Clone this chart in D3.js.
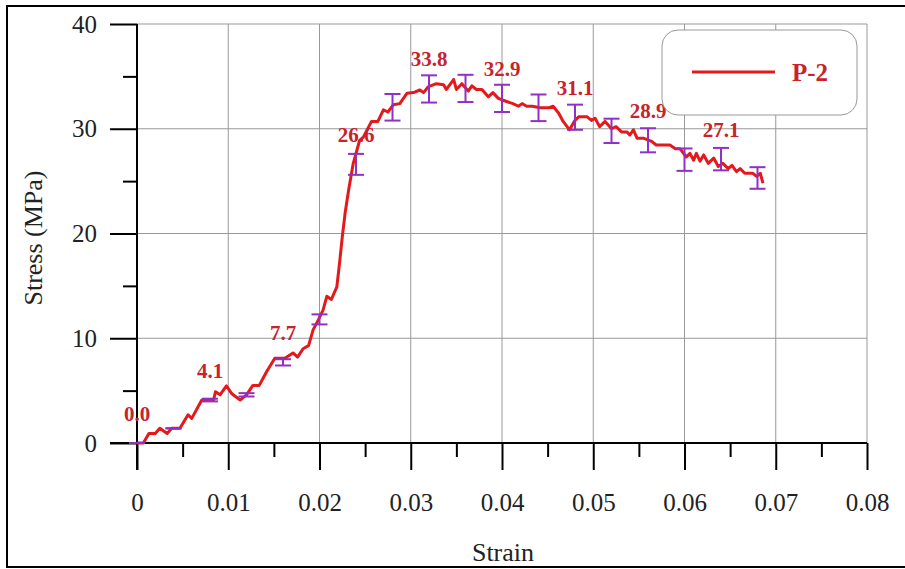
<!DOCTYPE html>
<html>
<head>
<meta charset="utf-8">
<script src="https://cdn.jsdelivr.net/npm/d3@7"></script>
<style>
  body { margin: 0; background: #fff; }
  svg { display: block; font-family: "Liberation Serif", "DejaVu Serif", serif; }
  .axis path, .axis line { stroke: #000; stroke-width: 2; }
  .axis text { font-size: 25px; fill: #222; }
</style>
</head>
<body>
<div id="chart"></div>
<script>
// stress-strain curve
var strain = [0, 0.0007, 0.0013, 0.002, 0.0025, 0.0033, 0.0038, 0.0047, 0.0056, 0.006,
  0.0071, 0.0084, 0.0086, 0.0091, 0.0098, 0.0104, 0.0113, 0.012, 0.0127, 0.0134,
  0.0142, 0.0151, 0.0162, 0.0171, 0.0176, 0.0182, 0.0188, 0.0193, 0.0199, 0.0204,
  0.0208, 0.0213, 0.0219, 0.0222, 0.0225, 0.0228, 0.0232, 0.0237, 0.0244, 0.0248,
  0.0257, 0.0264, 0.027, 0.0275, 0.0281, 0.0288, 0.0296, 0.0303, 0.031, 0.0314,
  0.0319, 0.0328, 0.0336, 0.0339, 0.0347, 0.035, 0.0356, 0.0363, 0.0367, 0.0372,
  0.0378, 0.0385, 0.039, 0.0396, 0.0405, 0.0412, 0.0418, 0.0422, 0.0427, 0.0433,
  0.0442, 0.0451, 0.0456, 0.0462, 0.0467, 0.0474, 0.048, 0.0484, 0.0493, 0.0498,
  0.0502, 0.0507, 0.0513, 0.052, 0.0525, 0.0531, 0.0537, 0.054, 0.0544, 0.0548,
  0.0555, 0.0564, 0.0569, 0.0584, 0.059, 0.0595, 0.0602, 0.0606, 0.061, 0.0613,
  0.0617, 0.0621, 0.0626, 0.0632, 0.0637, 0.0642, 0.0648, 0.0652, 0.0657, 0.0661,
  0.0666, 0.0675, 0.0679, 0.0683, 0.0686];
var stress = [0, 0, 0.9, 0.9, 1.4, 0.9, 1.4, 1.4, 2.7, 2.35,
  4.1, 4.1, 4.9, 4.6, 5.45, 4.7, 4.1, 4.6, 5.5, 5.5,
  6.8, 8.1, 8.1, 8.6, 8.2, 9.0, 9.3, 10.8, 11.8, 12.7,
  14.0, 13.7, 14.9, 17.2, 19.7, 21.9, 24.2, 26.7, 28.9, 29.2,
  30.7, 30.7, 31.8, 31.6, 32.3, 32.4, 33.4, 33.45, 33.7, 33.45,
  34.0, 34.3, 34.2, 33.75, 34.7, 33.75, 34.3, 33.6, 34.1, 33.75,
  33.75, 33.05, 33.45, 32.9, 32.6, 32.4, 32.15, 32.4, 32.15, 32.15,
  32.0, 32.0, 32.15, 31.5, 30.7, 29.9, 30.8, 31.15, 31.15, 30.8,
  31.0, 30.2, 30.7, 30.0, 30.2, 29.7, 29.7, 29.4, 29.9, 29.1,
  29.1, 28.8, 28.45, 28.45, 28.1, 28.1, 27.3, 27.65, 27.0, 27.65,
  26.9, 27.5, 26.7, 27.2, 26.4, 26.7, 26.2, 26.5, 25.9, 26.2,
  25.75, 25.75, 25.45, 25.75, 24.8];

// error bars
var barStrain = [0, 0.004, 0.008, 0.012, 0.016, 0.02, 0.024, 0.028, 0.032,
  0.036, 0.04, 0.044, 0.048, 0.052, 0.056, 0.06, 0.064, 0.068];
var barMean = [0, 1.4, 4.1, 4.6, 7.7, 11.8, 26.6, 32.05, 33.8,
  33.85, 32.9, 32.0, 31.1, 29.8, 28.9, 27.05, 27.1, 25.3];
var barErr = [0, 0, 0.13, 0.16, 0.3, 0.48, 1.0, 1.27, 1.3,
  1.3, 1.3, 1.27, 1.2, 1.16, 1.15, 1.07, 1.07, 1.03];

// value labels
var labelStrain = [0, 0.008, 0.016, 0.024, 0.032, 0.04, 0.048, 0.056, 0.064];
var labelText = ['0.0', '4.1', '7.7', '26.6', '33.8', '32.9', '31.1', '28.9', '27.1'];

var xTicks = [0, 0.01, 0.02, 0.03, 0.04, 0.05, 0.06, 0.07, 0.08];
var yTicks = [0, 10, 20, 30, 40];
var seriesName = 'P-2';

var W = 905, H = 569;
var x0 = 137, x1 = 867, y0 = 443, y1 = 24;
var fontFamily = '"Liberation Serif", "DejaVu Serif", serif';

var lineColor = '#e3191c', labelColor = '#c8232b', barColor = '#9130c4';

function translation(x, y) {
  return 'translate(' + x + ',' + y + ')';
}

var svg = d3.select('#chart').append('svg')
  .attr('width', W)
  .attr('height', H);

// outer frame (right edge falls outside the picture)
svg.append('rect')
  .attr('x', 7).attr('y', 6)
  .attr('width', 920).attr('height', 561)
  .attr('fill', 'none')
  .attr('stroke', '#000')
  .attr('stroke-width', 2);

var xScale = d3.scaleLinear().domain([0, 0.08]).range([x0, x1]);
var yScale = d3.scaleLinear().domain([0, 40]).range([y0, y1]);

// grid
svg.append('g').selectAll('line.gx')
  .data(xTicks.slice(1))
  .enter().append('line')
    .attr('x1', function(d) { return xScale(d); })
    .attr('x2', function(d) { return xScale(d); })
    .attr('y1', y0).attr('y2', y1)
    .attr('stroke', '#999').attr('stroke-width', 1);
svg.append('g').selectAll('line.gy')
  .data(yTicks.slice(1))
  .enter().append('line')
    .attr('x1', x0).attr('x2', x1)
    .attr('y1', function(d) { return yScale(d); })
    .attr('y2', function(d) { return yScale(d); })
    .attr('stroke', '#999').attr('stroke-width', 1);

// minor ticks
var xMinor = d3.range(0, 0.0801, 0.005).filter(function(d, i) { return i % 2; });
var yMinor = [5, 15, 25, 35];

svg.append('g')
  .attr('class', 'axis')
  .attr('transform', translation(0, y0))
  .call(d3.axisBottom(xScale).tickValues(xMinor).tickSize(14).tickFormat(''))
  .select('.domain').remove();
svg.append('g')
  .attr('class', 'axis')
  .attr('transform', translation(x0, 0))
  .call(d3.axisLeft(yScale).tickValues(yMinor).tickSize(14).tickFormat(''))
  .select('.domain').remove();

// major axes
var gx = svg.append('g')
  .attr('class', 'axis')
  .attr('transform', translation(0, y0))
  .call(d3.axisBottom(xScale).tickValues(xTicks).tickSize(27).tickPadding(23)
    .tickFormat(function(d) { return d === 0 ? '0' : d3.format('.2f')(d); }))
  .attr('font-family', fontFamily);
gx.select('.domain').attr('d', 'M' + (x0 - 27) + ',0H' + x1);

var gy = svg.append('g')
  .attr('class', 'axis')
  .attr('transform', translation(x0, 0))
  .call(d3.axisLeft(yScale).tickValues(yTicks).tickSize(27).tickPadding(13))
  .attr('font-family', fontFamily);
gy.select('.domain').attr('d', 'M0,' + y1 + 'V' + (y0 + 27));

// axis titles
svg.append('text')
  .attr('x', 503).attr('y', 561)
  .attr('text-anchor', 'middle')
  .style('font-size', '26px').style('fill', '#222')
  .text('Strain');
svg.append('text')
  .attr('transform', translation(42, 238) + ' rotate(-90)')
  .attr('text-anchor', 'middle')
  .style('font-size', '26px').style('fill', '#222')
  .text('Stress (MPa)');

// curve
var points = strain.map(function(s, i) { return [s, stress[i]]; });
var line = d3.line()
  .x(function(d) { return xScale(d[0]); })
  .y(function(d) { return yScale(d[1]); });

svg.append('path')
  .datum(points)
  .attr('d', line)
  .attr('fill', 'none')
  .attr('stroke', lineColor)
  .attr('stroke-width', 3)
  .attr('stroke-linejoin', 'round');

// error bars
var bars = svg.append('g').selectAll('g')
  .data(barStrain.map(function(s, i) { return { x: s, m: barMean[i], e: barErr[i] }; }))
  .enter().append('g')
    .attr('stroke', barColor)
    .attr('stroke-width', 2);
bars.append('line')
  .attr('x1', function(d) { return xScale(d.x); })
  .attr('x2', function(d) { return xScale(d.x); })
  .attr('y1', function(d) { return yScale(d.m - d.e); })
  .attr('y2', function(d) { return yScale(d.m + d.e); });
[-1, 1].forEach(function(sign) {
  bars.append('line')
    .attr('x1', function(d) { return xScale(d.x) - 8; })
    .attr('x2', function(d) { return xScale(d.x) + 8; })
    .attr('y1', function(d) { return yScale(d.m + sign * d.e); })
    .attr('y2', function(d) { return yScale(d.m + sign * d.e); });
});

// value labels
svg.append('g').selectAll('text')
  .data(labelStrain.map(function(s, i) { return { x: s, t: labelText[i] }; }))
  .enter().append('text')
    .attr('x', function(d) { return xScale(d.x); })
    .attr('y', function(d) { return yScale(+d.t) - 22.5; })
    .attr('text-anchor', 'middle')
    .style('font-size', '21px')
    .style('font-weight', 'bold')
    .style('fill', labelColor)
    .text(function(d) { return d.t; });

// legend
var legend = svg.append('g').attr('transform', translation(662, 30));
legend.append('rect')
  .attr('width', 195).attr('height', 85)
  .attr('rx', 16).attr('ry', 16)
  .attr('fill', '#fff')
  .attr('stroke', '#999')
  .attr('stroke-width', 1);
legend.append('line')
  .attr('x1', 30).attr('x2', 113)
  .attr('y1', 42).attr('y2', 42)
  .attr('stroke', lineColor)
  .attr('stroke-width', 3);
legend.append('text')
  .attr('x', 130).attr('y', 51)
  .style('font-size', '25px')
  .style('font-weight', 'bold')
  .style('fill', labelColor)
  .text(seriesName);
</script>
</body>
</html>
